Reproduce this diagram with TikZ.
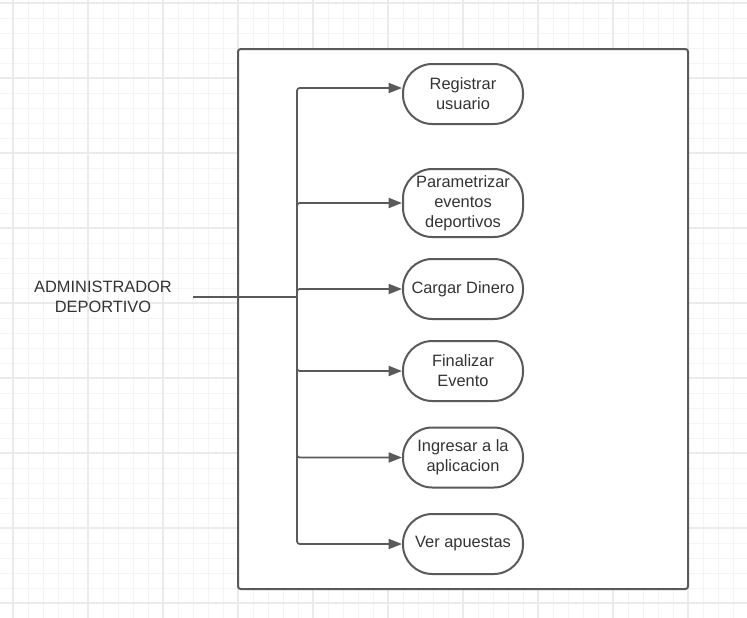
\documentclass[tikz,border=0pt]{standalone}
\usepackage{fontspec}
\setmainfont{Liberation Sans}
\usetikzlibrary{arrows.meta}
\definecolor{trazo}{HTML}{5A5A5A}
\definecolor{texto}{HTML}{333333}
\tikzset{
  caso/.style={draw=trazo, line width=1.5pt, fill=white, rounded corners=22pt,
    minimum width=90pt, minimum height=45pt, inner sep=1pt, align=center,
    text=texto, font=\fontsize{12.3}{15}\selectfont},
  flecha/.style={draw=trazo, line width=1.3pt, rounded corners=2pt,
    -{Triangle[length=10pt,width=7.5pt]}},
  rejilla/.style={draw=gray!9, line width=0.6pt},
  rejillab/.style={draw=gray!16, line width=0.8pt}
}
\begin{document}
\begin{tikzpicture}[x=0.75pt, y=-0.75pt]
\useasboundingbox (0,0) rectangle (747,618);
% fondo cuadriculado
\foreach \x in {13,28,...,747} \draw[rejilla] (\x,0) -- (\x,618);
\foreach \y in {3,18,...,618} \draw[rejilla] (0,\y) -- (747,\y);
\foreach \x in {13,88,...,747} \draw[rejillab] (\x,0) -- (\x,618);
\foreach \y in {3,78,...,618} \draw[rejillab] (0,\y) -- (747,\y);
% sistema
\draw[trazo, line width=1.5pt, fill=white, rounded corners=2pt] (238,49) rectangle (688,589);
\node [text=texto, align=center, font=\fontsize{12.3}{15}\selectfont] (adm) at (103,297) {ADMINISTRADOR\\DEPORTIVO};
\node [caso] (reg) at (463,94) {Registrar\\usuario};
\node [caso, minimum height=51pt] (par) at (463,203) {Parametrizar\\eventos\\deportivos};
\node [caso] (car) at (463,289) {Cargar Dinero};
\node [caso] (fin) at (463,371) {Finalizar\\Evento};
\node [caso] (ing) at (463,457.5) {Ingresar a la\\aplicacion};
\node [caso] (ver) at (463,544) {Ver apuestas};
\coordinate (a) at (193,297);
\coordinate (t) at (297,297);
\draw[draw=trazo, line width=1.3pt] (a) -- (t);
\draw[flecha] (t) |- ([yshift=4.5pt]reg.west);
\draw[flecha] (t) |- (par.west);
\draw[flecha] (t) |- (car.west);
\draw[flecha] (t) |- (fin.west);
\draw[flecha] (t) |- (ing.west);
\draw[flecha] (t) |- (ver.west);
\end{tikzpicture}
\end{document}
